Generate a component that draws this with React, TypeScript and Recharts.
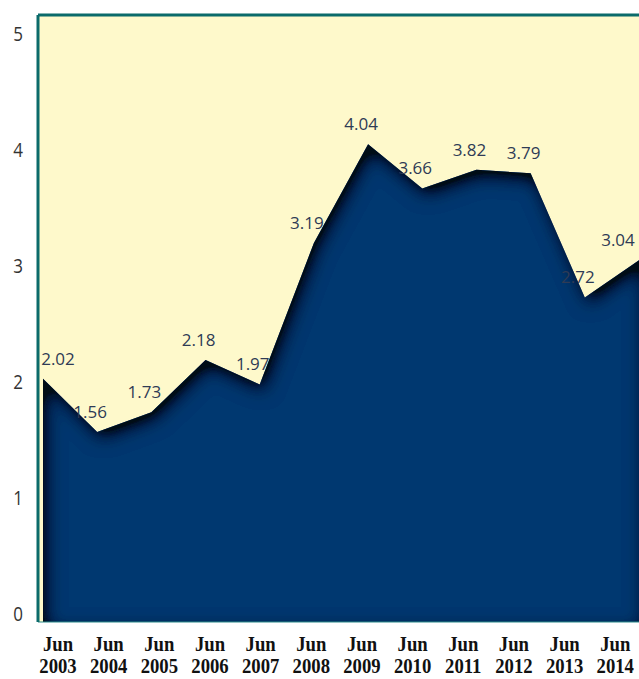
import { Area, AreaChart, CartesianGrid, LabelList, ReferenceLine, XAxis, YAxis } from 'recharts'

const years = ['2003', '2004', '2005', '2006', '2007', '2008', '2009', '2010', '2011', '2012', '2013', '2014']
const rates = [2.02, 1.56, 1.73, 2.18, 1.97, 3.19, 4.04, 3.66, 3.82, 3.79, 2.72, 3.04]
const yTicks = [0, 1, 2, 3, 4, 5]

const data = years.map((y, i) => ({ year: y, value: rates[i] }))

const TEAL = '#0b6b6b'
const NAVY = '#00376f'

// year labels in the source sit on a slightly narrower spread than the points
function YearTick(props: any) {
  const { x, y, payload } = props
  const lx = 58 + (x - 43) * 0.935
  return (
    <g transform={`translate(${lx},${y}) scale(0.85,1)`}>
      <text
        textAnchor="middle"
        fontFamily="'Liberation Serif', 'Times New Roman', serif"
        fontWeight="bold"
        fontSize={22}
        fill="#111"
      >
        <tspan x={0} y={21}>Jun</tspan>
        <tspan x={0} y={43}>{payload.value}</tspan>
      </text>
    </g>
  )
}

function ValueTick(props: any) {
  const { x, y, payload } = props
  return (
    <text
      transform={`translate(${x},${y}) scale(0.85,1)`}
      textAnchor="end"
      dominantBaseline="central"
      fontFamily="'Open Sans', sans-serif"
      fontSize={20}
      fill="#333"
    >
      {payload.value}
    </text>
  )
}

function PointLabel(props: any) {
  const vb = props.viewBox || {}
  const x = props.x ?? vb.x
  const y = props.y ?? vb.y
  return (
    <text
      x={Math.max(58, Math.min(x - 7, 618))}
      y={y - 14}
      textAnchor="middle"
      fontFamily="'Open Sans', sans-serif"
      fontSize={17}
      fill="#2f3b55"
    >
      {props.value}
    </text>
  )
}

export default function App() {
  return (
    <div style={{ position: 'absolute', left: 0, top: 0, width: 639, height: 679, overflow: 'hidden', background: '#fff' }}>
      <AreaChart width={639} height={679} data={data} margin={{ top: 15, right: 0, left: 0, bottom: 0 }}>
        <defs>
          <filter id="innerShadow" x="-10%" y="-10%" width="120%" height="130%">
            <feComponentTransfer in="SourceAlpha" result="inv">
              <feFuncA type="table" tableValues="1 0" />
            </feComponentTransfer>
            <feGaussianBlur in="inv" stdDeviation="9" />
            <feOffset dx="4" dy="7" result="offsetblur" />
            <feComponentTransfer in="offsetblur" result="strong">
              <feFuncA type="linear" slope="1.4" />
            </feComponentTransfer>
            <feFlood floodColor="#000814" floodOpacity="1" />
            <feComposite in2="strong" operator="in" />
            <feComposite in2="SourceAlpha" operator="in" result="shadow" />
            <feMerge>
              <feMergeNode in="SourceGraphic" />
              <feMergeNode in="shadow" />
            </feMerge>
          </filter>
        </defs>
        <CartesianGrid fill="#fef9cb" horizontal={false} vertical={false} stroke="none" />
        <XAxis
          dataKey="year"
          height={57}
          padding={{ left: 5, right: 0 }}
          tickLine={false}
          axisLine={{ stroke: '#2a8b8b', strokeWidth: 1 }}
          interval={0}
          tick={<YearTick />}
        />
        <YAxis
          width={38}
          domain={[-0.078, 5.155]}
          ticks={yTicks}
          tickLine={false}
          tickMargin={9}
          axisLine={{ stroke: TEAL, strokeWidth: 3 }}
          tick={<ValueTick />}
          allowDataOverflow
        />
        <Area
          type="linear"
          dataKey="value"
          stroke="none"
          fill={NAVY}
          fillOpacity={1}
          baseValue="dataMin"
          filter="url(#innerShadow)"
          isAnimationActive={false}
        >
          <LabelList dataKey="value" content={<PointLabel />} />
        </Area>
        <ReferenceLine y={5.155} stroke={TEAL} strokeWidth={3} />
      </AreaChart>
    </div>
  )
}
